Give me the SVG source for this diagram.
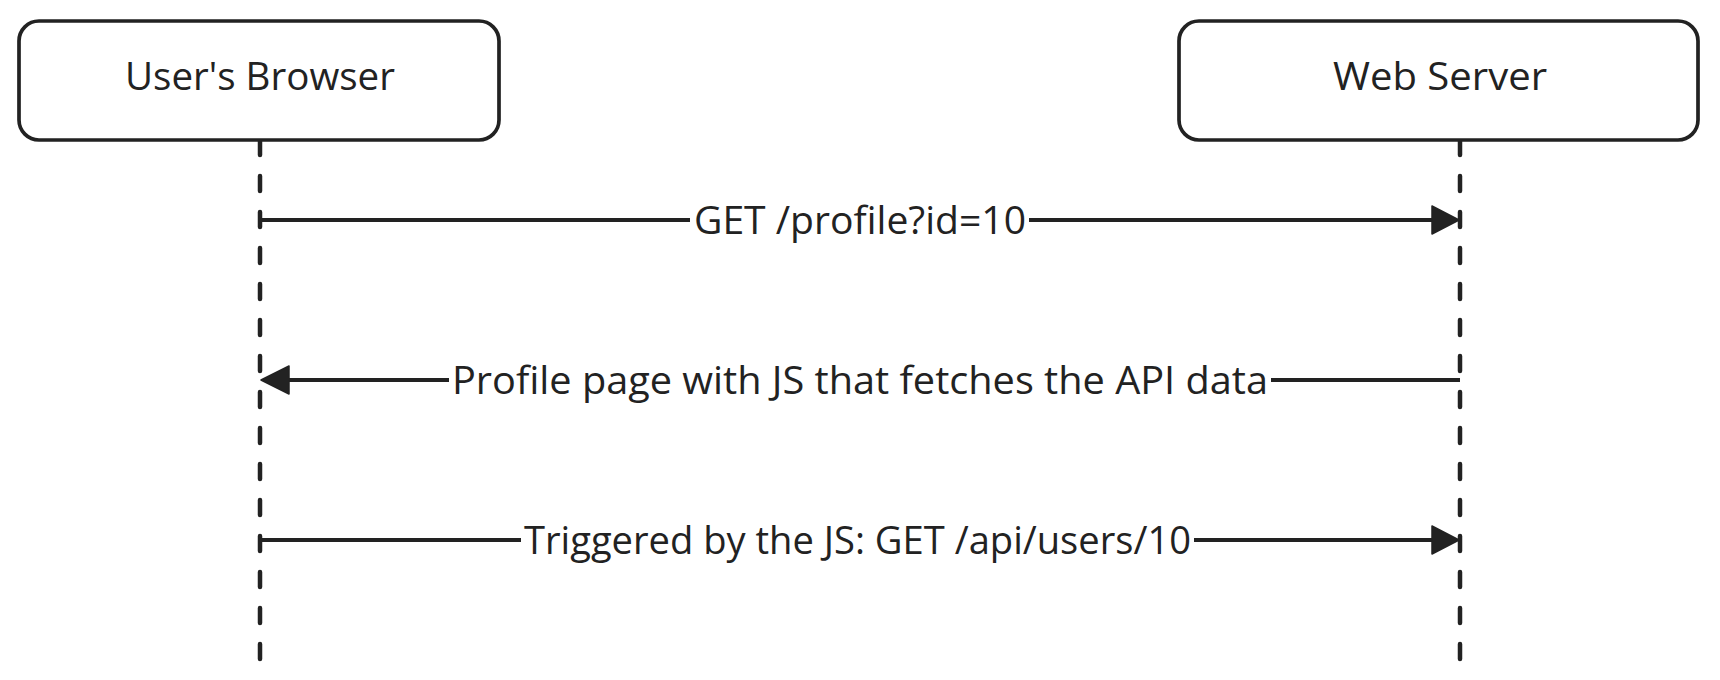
<svg xmlns="http://www.w3.org/2000/svg" width="1720" height="680" viewBox="0 0 1720 680">
<style>
.actor{fill:#fff;stroke:#222;stroke-width:3.7}
.lbl{font-family:"Open Sans","Noto Sans",sans-serif;font-size:39px;fill:#222;text-anchor:middle}
.life{stroke:#222;stroke-width:4.5;stroke-dasharray:15 21;stroke-linecap:round;fill:none}
.msg{stroke:#222;stroke-width:3.9;fill:none}
.head{fill:#222;stroke:#222;stroke-width:1.5;stroke-linejoin:round}
</style>
<rect width="1720" height="680" fill="#fff"/>
<g id="lifelines">
<line class="life" x1="260" y1="140" x2="260" y2="662"/>
<line class="life" x1="1460" y1="140" x2="1460" y2="662"/>
</g>
<g id="browser">
<rect class="actor" x="19" y="21" width="480" height="119" rx="20"/>
<text class="lbl" x="260" y="90" textLength="270" lengthAdjust="spacingAndGlyphs">User's Browser</text>
</g>
<g id="server">
<rect class="actor" x="1179" y="21" width="519" height="119" rx="20"/>
<text class="lbl" x="1440" y="90" textLength="214" lengthAdjust="spacingAndGlyphs">Web Server</text>
</g>
<g id="connectors">
<line class="msg" x1="260" y1="220" x2="690" y2="220"/>
<line class="msg" x1="1029" y1="220" x2="1436" y2="220"/>
<polygon class="head" points="1432,206 1459,220 1432,234"/>
<text class="lbl" x="860" y="234" textLength="332" lengthAdjust="spacingAndGlyphs">GET /profile?id=10</text>

<line class="msg" x1="1460" y1="380" x2="1271" y2="380"/>
<line class="msg" x1="449" y1="380" x2="284" y2="380"/>
<polygon class="head" points="289,366 261,380 289,394"/>
<text class="lbl" x="860" y="394" textLength="816" lengthAdjust="spacingAndGlyphs">Profile page with JS that fetches the API data</text>

<line class="msg" x1="260" y1="540" x2="521" y2="540"/>
<line class="msg" x1="1194" y1="540" x2="1436" y2="540"/>
<polygon class="head" points="1432,526 1459,540 1432,554"/>
<text class="lbl" x="857.5" y="554" textLength="667" lengthAdjust="spacingAndGlyphs">Triggered by the JS: GET /api/users/10</text>
</g>
</svg>
